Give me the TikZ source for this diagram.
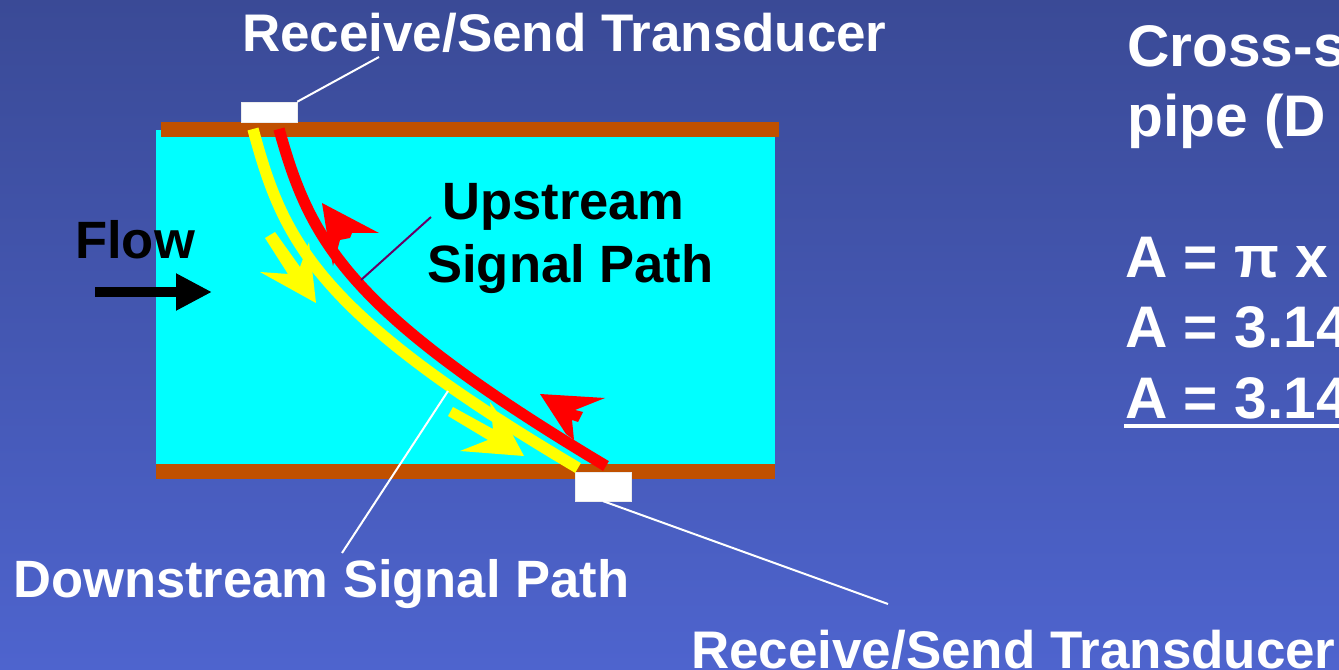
\documentclass[tikz,border=0pt]{standalone}
\usepackage{fontspec}
\setmainfont{Liberation Sans}
\usetikzlibrary{arrows.meta, positioning}
\definecolor{wallbrown}{RGB}{192,80,0}
\definecolor{bgtop}{RGB}{58,74,150}
\definecolor{bgbot}{RGB}{78,100,206}
\definecolor{pipecyan}{RGB}{0,255,255}
\definecolor{sigyellow}{RGB}{255,255,0}
\definecolor{sigred}{RGB}{255,0,0}
\begin{document}
\begin{tikzpicture}[
		x=0.75pt,y=-0.75pt,
		lbl/.style={anchor=base west,inner sep=0pt,font=\fontsize{39.4}{46}\selectfont\bfseries},
		wlbl/.style={lbl,text=white},
		xlbl/.style={wlbl,font=\fontsize{39.7}{46}\selectfont\bfseries},
		area/.style={wlbl,font=\fontsize{44}{50}\selectfont\bfseries},
		xdr/.style={draw=white!85!gray,line width=.4pt,fill=white,inner sep=0pt,minimum width=42pt,minimum height=15pt},
		wall/.style={fill=wallbrown},
		lead/.style={draw=white,line width=1.5pt},
		sig/.style={line width=8.5pt}]
		\useasboundingbox (0,0) rectangle (1339,670);
		\shade[top color=bgtop,bottom color=bgbot] (0,0) rectangle (1339,670);
		% pipe
		\fill[pipecyan] (156,130) rectangle (775,470);
		\fill[wall] (161,122) rectangle (779,137);
		\fill[wall] (156,464) rectangle (775,479);
		\node (xdrtop) [xdr] at (269,112) {};
		\node (xdrbot) [xdr,minimum height=21.5pt] at (603,486.5) {};
		% signal paths
		\draw[sig,sigyellow] (253,129) .. controls (283,240) and (314,312) .. (578,468);
		\draw[sig,sigred] (279,129) .. controls (310,240) and (345,310) .. (606,466);
		% arrow heads
		\fill[sigyellow] (265,238) -- (288,274) -- (260,272) -- (316,303) -- (309,242) -- (300,267) -- (275,232) -- cycle;
		\fill[sigyellow] (453,407) -- (493,429) -- (490,402) -- (510,430) -- (524,456) -- (460,451) -- (488,440) -- (448,416) -- cycle;
		\fill[sigred] (322,203) -- (379,233) -- (352,233) -- (350,238) -- (340,240) -- (333,266) -- (328,240) -- cycle;
		\fill[sigred] (540,394) -- (605,398) -- (575,410) -- (583,412) -- (578,422) -- (572,420) -- (574,440) -- (566,434) -- cycle;
		% flow
		\coordinate (flowa) at (95,292);
		\coordinate (flowb) at (212,292);
		\draw[line width=7.5pt,-{Triangle[length=27pt,width=26pt]}] (flowa) -- (flowb);
		% leaders
		\coordinate (toplbl) at (379,57);
		\coordinate (botlbl) at (888,604);
		\coordinate (uplbl) at (431,217);
		\coordinate (upend) at (361,280);
		\coordinate (dnlbl) at (342,553);
		\coordinate (dnend) at (448,391);
		\draw[lead] (xdrtop.north east) -- (toplbl);
		\draw[lead] (xdrbot.south) -- (botlbl);
		\draw[lead] (dnlbl) -- (dnend);
		\draw[draw=violet!80!black,line width=1.5pt] (upend) -- (uplbl);
		% labels
		\node (rst) [xlbl] at (242,52) {Receive/Send Transducer};
		\node (rsb) [xlbl] at (691,668) {Receive/Send Transducer};
		\node (dsp) [wlbl] at (13,597) {Downstream Signal Path};
		\node (flw) [lbl] at (75,259) {Flow};
		\node (ups) [lbl] at (442,220) {Upstream};
		\node (spt) [lbl] at (427,283) {Signal Path};
		% area text
		\node (crs) [area] at (1127,67) {Cross-s};
		\node (pip) [area] at (1127,137) {pipe (D};
		\node (ap) [area] at (1125,278) {A = π x};
		\node (av) [area] at (1125,348) {A = 3.14};
		\node (ar) [area] at (1125,418) {A = 3.14};
		\coordinate (ulend) at (1339,426);
		\draw[draw=white,line width=3pt] (1124,426) -- (ulend);
	\end{tikzpicture}
\end{document}
